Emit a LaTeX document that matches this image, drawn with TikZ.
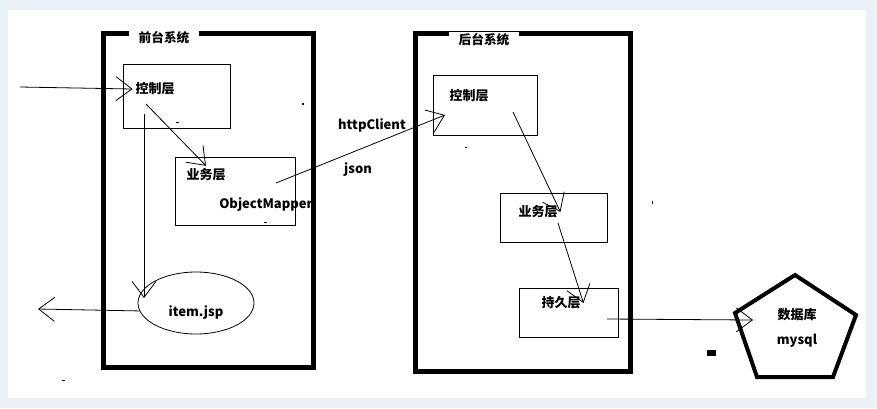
\documentclass[tikz,border=0pt]{standalone}
\usepackage{fontspec}
\setmainfont{Noto Sans CJK SC}
\usetikzlibrary{arrows.meta,shapes.geometric}
\definecolor{pagebg}{RGB}{236,241,248}

\tikzset{
  sysframe/.style={line width=3.75pt},
  systitle/.style={fill=white, inner xsep=7pt, inner ysep=1pt, font=\fontsize{9.5}{11}\selectfont\bfseries},
  layerbox/.style={draw, line width=0.6pt, inner sep=0pt},
  lbl/.style={inner sep=2pt, font=\fontsize{9.75}{11}\selectfont\bfseries},
  flow/.style={line width=0.6pt, -{Straight Barb[length=12pt,width=18pt,line width=0.6pt]}},
  speck/.style={fill=black},
}

\begin{document}
\begin{tikzpicture}[x=0.75pt, y=-0.75pt]
	\fill[pagebg] (0,0) rectangle (877,408);
	\fill[white] (8,10) rectangle (866,398);
	\useasboundingbox (0,0) rectangle (877,408);

	% front system
	\draw[sysframe] (103,33.5) rectangle (313,367.5);
	\node[systitle] (fronttitle) at (164,38) {前台系统};
	\node[layerbox, minimum width=80.25pt, minimum height=48pt] (fctl) at (176.5,96) {};
	\node[lbl] (fctltxt) at (155,89) {控制层};
	\node[layerbox, minimum width=90pt, minimum height=51pt] (fbiz) at (235,191) {};
	\node[lbl] (fbiztxt) at (206,175) {业务层};
	\node[lbl] (mapper) at (266,205) {ObjectMapper};
	\node[draw, ellipse, line width=0.6pt, inner sep=0pt, minimum width=87pt, minimum height=46.5pt] (jsp) at (196,303) {};
	\node[lbl] (jsptxt) at (196,313) {item.jsp};

	% back system
	\draw[sysframe] (415.5,33.5) rectangle (630.5,371);
	\node[systitle] (backtitle) at (484,40) {后台系统};
	\node[layerbox, minimum width=78pt, minimum height=45pt] (bctl) at (485,105) {};
	\node[lbl] (bctltxt) at (469,96) {控制层};
	\node[layerbox, minimum width=80.25pt, minimum height=36.75pt] (bbiz) at (553.5,217.5) {};
	\node[lbl] (bbiztxt) at (538,212) {业务层};
	\node[layerbox, minimum width=74.25pt, minimum height=36.75pt] (bper) at (568.5,312.5) {};
	\node[lbl] (bpertxt) at (561,303) {持久层};

	% database
	\draw[line width=3pt, line join=miter] (795,275) -- (856,315) -- (833,377) -- (757,377) -- (735,313) -- cycle;
	\node[lbl] (db) at (797,315) {数据库};
	\node[lbl] (dbname) at (797,341) {mysql};

	% link labels
	\node[lbl] (http) at (372,125) {httpClient};
	\node[lbl] (json) at (358,170) {json};

	% connector ends
	\coordinate (req) at (20,87);
	\coordinate (resp) at (38,309);
	\coordinate (fctlout) at (146,104);
	\coordinate (fctldown) at (144,114);
	\coordinate (jspin) at (144,298);
	\coordinate (mapout) at (276,183);
	\coordinate (bctlin) at (445,115);
	\coordinate (bctlout) at (513,112);
	\coordinate (bbizout) at (558,223);
	\coordinate (bperout) at (607,319);
	\coordinate (dbin) at (753,320);

	\draw[flow] (req) -- (fctltxt.west);
	\draw[flow] (fctlout) -- (fbiztxt.north);
	\draw[flow] (fctldown) -- (jspin);
	\draw[flow] (jsp.188) -- (resp);
	\draw[flow] (mapout) -- (bctlin);
	\draw[flow] (bctlout) -- (bbiztxt.east);
	\draw[flow] (bbizout) -- (bpertxt.east);
	\draw[flow] (bperout) -- (dbin);

	% stray marks
	\fill[speck] (707,350) rectangle (716,356);
	\fill[speck] (302,103) rectangle (304,105);
	\fill[speck] (176,121.5) rectangle (179,122.5);
	\fill[speck] (264,221.5) rectangle (267,222.5);
	\fill[speck] (62,379.5) rectangle (65,380.5);
	\fill[speck] (465,146.5) rectangle (467,147.5);
	\fill[speck] (652,201) rectangle (653,204);
\end{tikzpicture}
\end{document}
